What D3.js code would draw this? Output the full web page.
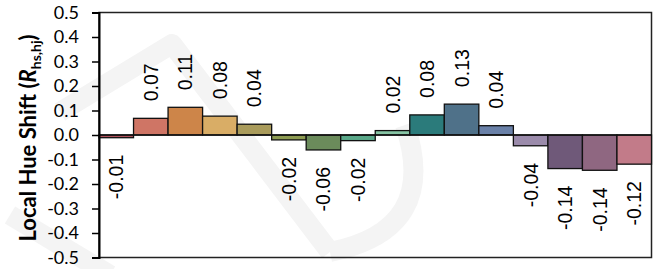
<!DOCTYPE html>
<html>
<head>
<meta charset="utf-8">
<script src="https://cdn.jsdelivr.net/npm/d3@7"></script>
<style>
  body { margin: 0; background: #fff; }
  svg { display: block; }
</style>
</head>
<body>
<div id="chart"></div>
<script>
// bar values, in order left to right
const values = [-0.011, 0.068, 0.113, 0.077, 0.044, -0.020, -0.061, -0.023,
                0.018, 0.082, 0.126, 0.038, -0.044, -0.137, -0.144, -0.119];
const barColors = ["#b0525c", "#cf7565", "#cd8549", "#d9ad66", "#a99b5b", "#8e9c52",
                   "#6b8b5b", "#5aa889", "#86c4a4", "#2b7b7b", "#4f7189", "#6a81a8",
                   "#9b8bab", "#6f5979", "#8f6781", "#c27b89"];
const yTicks = [-0.5, -0.4, -0.3, -0.2, -0.1, 0.0, 0.1, 0.2, 0.3, 0.4, 0.5];

window.onload = function() {
    let W = 657, H = 269;
    let margin = {top: 12.5, right: 5.5, bottom: 11.5, left: 99},
        width = W - margin.left - margin.right,
        height = H - margin.top - margin.bottom;

    // plain hyphen for minus signs, like the original
    const locale = d3.formatLocale({decimal: ".", thousands: ",", grouping: [3],
                                    currency: ["", ""], minus: "-"});

    let svg = d3.select("#chart")
        .append("svg")
        .attr("width", W)
        .attr("height", H);

    // faint watermark behind the chart
    let wm = svg.append("g")
        .attr("fill", "none")
        .attr("stroke", "#f4f4f4")
        .attr("stroke-width", 20)
        .attr("stroke-linejoin", "round");
    wm.append("path").attr("d", "M60,112 L172,44 L330,252");
    wm.append("path").attr("d", "M330,252 Q440,230 405,125");
    wm.append("path").attr("d", "M10,215 L110,275");

    let g = svg.append("g")
        .attr("transform", "translate(" + margin.left + "," + margin.top + ")");

    const X_SCALE = d3.scaleBand()
        .domain(d3.range(values.length))
        .range([0, width])
        .padding(0);

    const Y_SCALE = d3.scaleLinear()
        .domain([-0.5, 0.5])
        .range([height, 0]);

    // frame round the plot area
    g.append("rect")
        .attr("x", 0).attr("y", 0)
        .attr("width", width).attr("height", height)
        .attr("fill", "none")
        .attr("stroke", "#222")
        .attr("stroke-width", 1.5);

    // bars
    g.selectAll(".bar")
        .data(values)
        .enter().append("rect")
        .attr("class", "bar")
        .attr("x", (d, i) => X_SCALE(i))
        .attr("y", d => Y_SCALE(Math.max(0, d)))
        .attr("width", X_SCALE.bandwidth())
        .attr("height", d => Math.abs(Y_SCALE(d) - Y_SCALE(0)))
        .attr("fill", (d, i) => barColors[i])
        .attr("stroke", "#111")
        .attr("stroke-width", 1.3);

    // zero line
    g.append("line")
        .attr("x1", 0).attr("x2", width)
        .attr("y1", Y_SCALE(0)).attr("y2", Y_SCALE(0))
        .attr("stroke", "#111")
        .attr("stroke-width", 1.6);

    // value labels, rotated
    const fmt = locale.format(".2f");
    g.selectAll(".lbl")
        .data(values)
        .enter().append("text")
        .attr("class", "lbl")
        .attr("transform", (d, i) => {
            let cx = X_SCALE(i) + X_SCALE.bandwidth() / 2;
            let cy = d >= 0 ? Y_SCALE(d) - 17 : Y_SCALE(d) + 17;
            return "translate(" + cx + "," + cy + ") rotate(-90)";
        })
        .attr("dy", "0.36em")
        .attr("text-anchor", d => d >= 0 ? "start" : "end")
        .style("font-family", "'Liberation Sans', Arial, sans-serif")
        .style("font-size", "19.5px")
        .attr("fill", "#000")
        .text(d => fmt(d));

    // y axis
    let yAxis = g.append("g")
        .call(d3.axisLeft(Y_SCALE)
            .tickValues(yTicks)
            .tickFormat(locale.format(".1f"))
            .tickSize(7)
            .tickPadding(13));
    yAxis.select(".domain").attr("stroke", "#000").attr("stroke-width", 2);
    yAxis.selectAll(".tick line").attr("stroke", "#000").attr("stroke-width", 1.5);
    yAxis.selectAll(".tick text")
        .style("font-family", "Lato, 'Open Sans', sans-serif")
        .style("font-size", "18px")
        .attr("fill", "#000");

    // y axis title
    let title = svg.append("text")
        .attr("transform", "translate(36," + (margin.top + height / 2 + 3) + ") rotate(-90)")
        .attr("text-anchor", "middle")
        .style("font-family", "Lato, 'Open Sans', sans-serif")
        .style("font-size", "22px")
        .style("font-weight", "bold")
        .attr("fill", "#000");
    title.append("tspan").text("Local Hue Shift (");
    title.append("tspan").style("font-style", "italic").text("R");
    title.append("tspan").attr("dy", 5).style("font-size", "14px").text("hs,hj");
    title.append("tspan").attr("dy", -5).text(")");
};
</script>
</body>
</html>
